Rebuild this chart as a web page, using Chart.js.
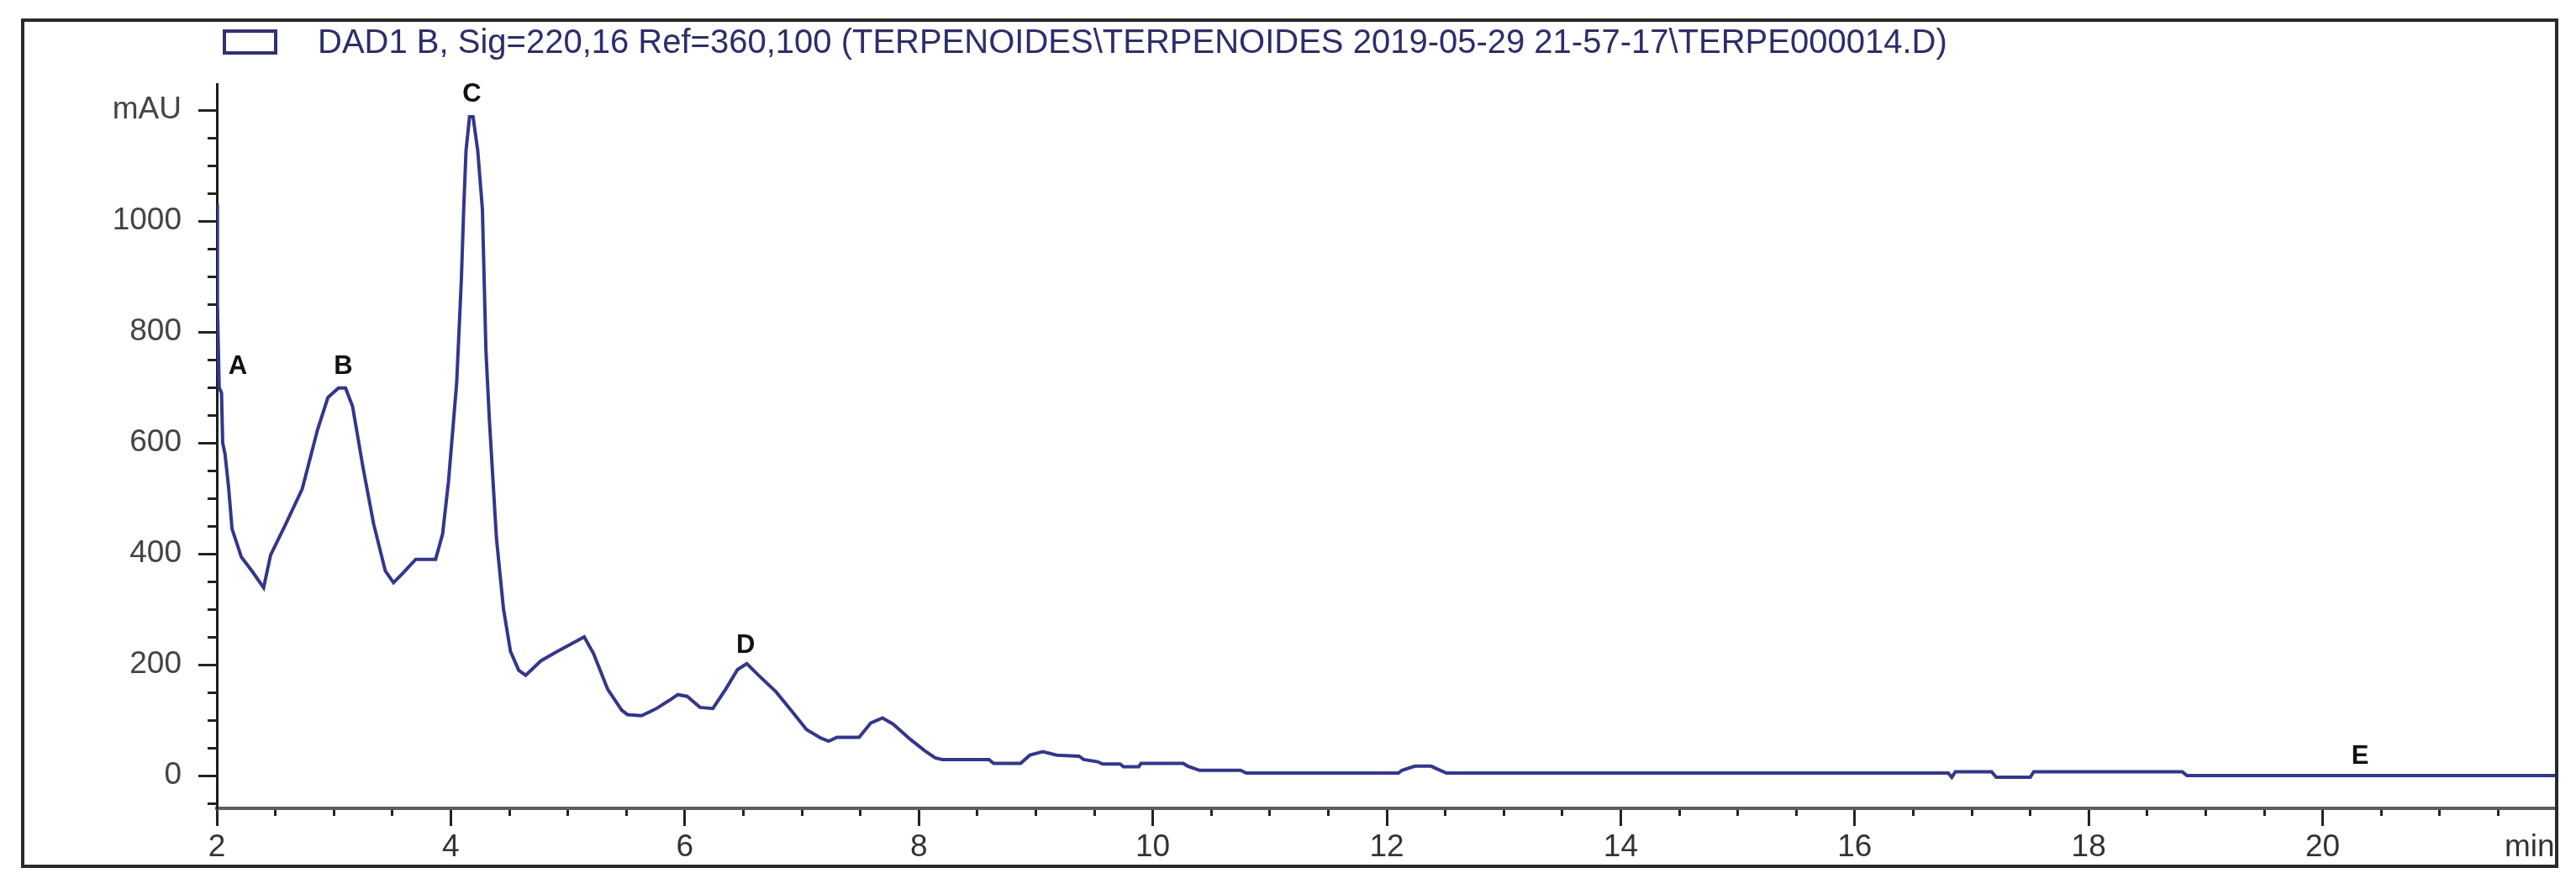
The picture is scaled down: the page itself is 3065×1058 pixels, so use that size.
<!DOCTYPE html>
<html>
<head>
<meta charset="utf-8">
<script src="https://cdn.jsdelivr.net/npm/chart.js@4.4.1/dist/chart.umd.min.js"></script>
<style>
  html, body { margin: 0; padding: 0; background: #fff; }
</style>
</head>
<body>
<canvas id="chart" width="3065" height="1058"></canvas>
<script>
// Retention time (min) and absorbance (mAU)
const times = [
  2.00, 2.005, 2.02, 2.04, 2.05, 2.07, 2.10, 2.13, 2.21, 2.30, 2.40, 2.46, 2.59, 2.73,
  2.86, 2.95, 3.04, 3.10, 3.16, 3.25, 3.34, 3.44, 3.51, 3.59, 3.70, 3.87, 3.93, 3.98,
  4.05, 4.09, 4.11, 4.13, 4.16, 4.19, 4.23, 4.27, 4.30, 4.33, 4.39, 4.45, 4.51, 4.58,
  4.64, 4.77, 4.91, 5.06, 5.14, 5.22, 5.34, 5.46, 5.51, 5.63, 5.75, 5.87, 5.94, 6.02,
  6.13, 6.24, 6.35, 6.45, 6.53, 6.63, 6.78, 6.92, 7.04, 7.16, 7.23, 7.30, 7.49, 7.59,
  7.69, 7.78, 7.93, 8.05, 8.14, 8.20, 8.60, 8.64, 8.87, 8.95, 9.06, 9.18, 9.37, 9.41,
  9.53, 9.57, 9.72, 9.75, 9.88, 9.90, 10.26, 10.30, 10.40, 10.75, 10.80, 12.10, 12.13,
  12.24, 12.38, 12.43, 12.51, 16.80, 16.83, 16.86, 17.17, 17.21, 17.50, 17.53, 18.80,
  18.84, 22.0
];
const absorbance = [
  1030, 850, 700, 690, 600, 580, 521, 445, 394, 369, 339, 398, 454, 517,
  623, 682, 699, 699, 666, 555, 454, 369, 348, 365, 390, 390, 436, 530,
  708, 894, 1021, 1127, 1188, 1188, 1127, 1021, 767, 640, 428, 301, 224, 190,
  181, 207, 224, 241, 250, 220, 156, 118, 110, 108, 120, 136, 146, 143,
  123, 121, 156, 191, 202, 181, 151, 115, 83, 68, 62, 69, 69, 95,
  104, 93, 65, 45, 32, 29, 29, 22, 22, 37, 43, 37, 35, 29,
  25, 21, 21, 16, 16, 22, 22, 17, 9.5, 9.5, 4.5, 4.5, 9.5,
  17, 17, 12, 4.5, 4.5, -3, 7, 7, -3, -3, 7, 7,
  0, 0
];

// Peak letters and where they are written (min, mAU)
const peakLabels = ["A", "B", "C", "D", "E"];
const peakLabelX = [2.18, 3.08, 4.18, 6.52, 20.32];
const peakLabelY = [737, 737, 1228, 234, 35];

const signalName = "DAD1 B, Sig=220,16 Ref=360,100 (TERPENOIDES\\TERPENOIDES 2019-05-29 21-57-17\\TERPE000014.D)";
const xUnit = "min";
const yUnit = "mAU";

const FONT = "'Liberation Sans', Arial, sans-serif";
const NAVY = "#33378a";

const decorations = {
  id: "decorations",
  afterDraw(chart) {
    const ctx = chart.ctx;
    const xs = chart.scales.x;
    const ys = chart.scales.y;
    ctx.save();

    // outer frame
    ctx.strokeStyle = "#2a2a2a";
    ctx.lineWidth = 4;
    ctx.strokeRect(27, 24, 3015, 1007);

    // legend box + signal name
    ctx.strokeStyle = "#2f3170";
    ctx.lineWidth = 4;
    ctx.strokeRect(267, 37, 61, 26);
    ctx.fillStyle = "#2c2e6a";
    ctx.font = "40px " + FONT;
    ctx.textAlign = "left";
    ctx.textBaseline = "middle";
    ctx.fillText(signalName, 378, 52);

    // unit at the end of the time axis
    ctx.fillStyle = "#333";
    ctx.font = "37px " + FONT;
    ctx.fillText(xUnit, 2980, 1009);

    // peak letters
    ctx.fillStyle = "#111";
    ctx.font = "bold 31px " + FONT;
    ctx.textAlign = "center";
    peakLabels.forEach((p, i) => {
      ctx.fillText(p, xs.getPixelForValue(peakLabelX[i]), ys.getPixelForValue(peakLabelY[i]));
    });
    ctx.restore();
  },
};

const ctx = document.getElementById("chart").getContext("2d");
const myChart = new Chart(ctx, {
  type: "line",
  data: {
    datasets: [
      {
        label: signalName,
        data: times.map((t, i) => ({ x: t, y: absorbance[i] })),
        borderColor: NAVY,
        borderWidth: 4,
        pointRadius: 0,
        tension: 0,
        fill: false,
        xAxisID: "x",
        yAxisID: "y",
      },
    ],
  },
  options: {
    responsive: false,
    animation: false,
    layout: { padding: { left: 0, right: 23, top: 100, bottom: 0 } },
    plugins: { legend: { display: false }, tooltip: { enabled: false } },
    scales: {
      // minor time ticks + axis line
      xMinor: {
        type: "linear", position: "bottom", min: 2, max: 22, weight: 0,
        afterFit: (s) => { s.height = 0; },
        ticks: { stepSize: 0.5, display: false },
        grid: { drawOnChartArea: false, tickLength: 9, tickWidth: 3, tickColor: "#222" },
        border: { display: true, width: 4, color: "#5e5e5e" },
      },
      x: {
        type: "linear", position: "bottom", min: 2, max: 22, weight: 1,
        afterFit: (s) => { s.height = 96; },
        ticks: {
          stepSize: 2, autoSkip: false, maxRotation: 0, padding: 4,
          color: "#333", font: { size: 37, family: FONT },
          callback: (v) => (v === 22 ? "" : String(v)),
        },
        grid: { drawOnChartArea: false, tickLength: 21, tickWidth: 3, tickColor: "#222" },
        border: { display: false },
      },
      yMinor: {
        type: "linear", position: "left", min: -59, max: 1247, weight: 0,
        afterFit: (s) => { s.width = 0; },
        ticks: { stepSize: 50, display: false, includeBounds: false },
        grid: { drawOnChartArea: false, tickLength: 11, tickWidth: 3, tickColor: "#222" },
        border: { display: true, width: 3, color: "#1e1e1e" },
      },
      y: {
        type: "linear", position: "left", min: -59, max: 1247, weight: 1,
        afterFit: (s) => { s.width = 258; },
        ticks: {
          stepSize: 200, includeBounds: false, padding: 20,
          color: "#444", font: { size: 37, family: FONT },
          callback: (v) => (v === 1200 ? yUnit : String(v)),
        },
        grid: { drawOnChartArea: false, tickLength: 22, tickWidth: 3, tickColor: "#222" },
        border: { display: false },
      },
    },
  },
  plugins: [decorations],
});
</script>
</body>
</html>
